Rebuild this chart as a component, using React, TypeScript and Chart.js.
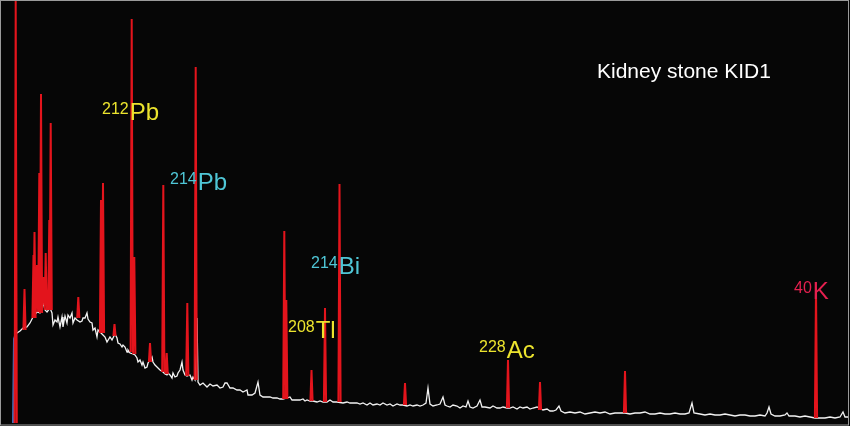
import React, { useEffect, useRef } from "react";
import { Chart, registerables } from "chart.js";

Chart.register(...registerables);

// Continuum (white trace): channel and counts
const contChannel = [
  15, 17, 20, 23, 27, 30, 33, 37, 40, 43, 45, 47, 50, 52, 53, 55, 57, 58, 60, 62, 63, 65, 67, 68, 70, 72, 73, 75, 77, 80,
  82, 83, 85, 87, 88, 90, 92, 93, 95, 97, 98, 100, 103, 105, 107, 108, 110, 112, 115, 117, 118, 120, 122, 123, 125, 127, 128, 130, 133, 135,
  137, 138, 140, 142, 143, 145, 147, 148, 150, 152, 153, 155, 157, 158, 160, 163, 165, 167, 168, 170, 172, 173, 175, 177, 178, 180, 182, 183, 185, 187,
  190, 192, 193, 195, 197, 198, 200, 203, 207, 210, 213, 217, 220, 223, 225, 227, 230, 233, 237, 240, 243, 247, 248, 252, 255, 258, 260, 263, 267, 270,
  273, 277, 280, 283, 287, 290, 292, 297, 300, 303, 305, 307, 310, 313, 317, 320, 323, 327, 330, 333, 337, 343, 347, 350, 357, 360, 363, 367, 370, 373,
  377, 380, 383, 387, 390, 393, 397, 400, 403, 407, 410, 413, 417, 420, 423, 426, 428, 430, 433, 437, 440, 443, 445, 447, 450, 453, 457, 460, 463, 466,
  468, 470, 473, 477, 480, 482, 485, 490, 493, 497, 500, 503, 507, 510, 513, 517, 520, 523, 527, 530, 533, 537, 543, 547, 550, 553, 556, 559, 561, 565,
  570, 575, 580, 585, 590, 595, 600, 605, 610, 615, 620, 625, 630, 635, 640, 645, 650, 655, 660, 665, 670, 675, 680, 685, 689, 692, 694, 700, 705, 710,
  715, 720, 725, 730, 735, 740, 745, 750, 755, 760, 765, 767, 769, 771, 775, 780, 785, 787, 789, 795, 800, 805, 810, 815, 820, 825, 830, 835, 840, 843,
  845, 848,
];
const contCounts = [
  87, 90, 92, 95, 96, 100, 106, 111, 110, 121, 113, 111, 115, 110, 98, 103, 101, 106, 96, 106, 96, 107, 100, 108, 105, 110, 100, 105, 103, 101,
  102, 105, 105, 110, 104, 101, 100, 93, 95, 86, 93, 91, 88, 86, 81, 81, 86, 83, 89, 85, 80, 79, 76, 78, 76, 71, 73, 70, 69, 68,
  65, 61, 63, 58, 61, 55, 56, 60, 63, 66, 61, 58, 56, 55, 53, 51, 49, 48, 50, 48, 45, 50, 46, 47, 50, 53, 61, 53, 48, 47,
  48, 43, 46, 43, 105, 41, 38, 40, 36, 39, 37, 38, 35, 36, 40, 40, 35, 35, 33, 33, 31, 33, 28, 28, 30, 41, 28, 26, 26, 26,
  25, 25, 24, 24, 25, 26, 23, 23, 23, 24, 22, 23, 22, 22, 21, 22, 21, 21, 23, 21, 21, 20, 21, 20, 20, 19, 20, 18, 20, 18,
  19, 18, 20, 18, 19, 17, 19, 18, 18, 17, 18, 17, 18, 17, 18, 20, 35, 19, 17, 18, 19, 26, 18, 17, 16, 18, 17, 15, 17, 16,
  22, 16, 15, 17, 23, 16, 16, 15, 17, 15, 15, 16, 15, 15, 16, 14, 16, 15, 16, 14, 15, 16, 13, 14, 12, 12, 13, 17, 12, 10,
  11, 10, 11, 9, 10, 11, 10, 11, 9, 10, 10, 10, 9, 10, 10, 11, 9, 9, 10, 9, 9, 10, 9, 9, 10, 20, 10, 9, 8, 9,
  8, 8, 9, 8, 7, 8, 8, 7, 7, 8, 7, 10, 16, 9, 7, 7, 8, 10, 7, 7, 6, 7, 6, 5, 5, 5, 6, 5, 6, 11,
  6, 6,
];

// Full-energy peaks (red): centre channel, peak counts, counts at peak foot
const peakChannel = [15.7, 24.5, 33.5, 34.5, 37, 39.3, 41, 43.3, 45.7, 49.3, 50.7, 78.3, 101, 103, 114.5, 131.7, 134.3, 150, 163.3, 166.7, 187.3, 195.7, 284.3, 286.3, 311.5, 325, 339.5, 405, 508, 540, 625, 816];
const peakCounts = [423, 134, 168, 191, 158, 250, 329, 146, 170, 203, 300, 126, 223, 240, 99, 404, 166, 80, 238, 70, 120, 356, 192, 123, 53, 115, 239, 40, 63, 41, 52, 135];
const peakBase = [0, 93, 105, 105, 111, 111, 110, 118, 113, 113, 113, 105, 90, 90, 87, 71, 69, 61, 51, 49, 47, 43, 24, 24, 22, 21, 21, 18, 15, 13, 10, 5];

// Low-energy threshold edge (blue)
const edgeChannel = [13, 14, 15];
const edgeCounts = [0, 84, 87];

// Nuclide annotations
const labelMass = ["212", "214", "214", "208", "228", "40"];
const labelSymbol = ["Pb", "Pb", "Bi", "Tl", "Ac", "K"];
const labelChannel = [102, 170, 311, 288, 479, 794];
const labelCounts = [303, 233, 149, 85, 65, 124];
const labelColor = ["#ece42e", "#4fc6d6", "#4fc6d6", "#ece42e", "#ece42e", "#e5204f"];

const titleText = "Kidney stone KID1";
const titleChannel = 597;
const titleCounts = 345;

const FONT = '"Liberation Sans", Arial, sans-serif';

export default function App() {
  const ref = useRef<HTMLCanvasElement>(null);

  useEffect(() => {
    document.body.style.margin = "0";
    const canvas = ref.current;
    if (!canvas) return;

    const whiteData = contChannel.map((x, i) => ({ x, y: contCounts[i] }));
    const redData: any[] = [];
    peakChannel.forEach((x, i) => {
      redData.push({ x: x - 1.1, y: peakBase[i] });
      redData.push({ x, y: peakCounts[i] });
      redData.push({ x: x + 1.1, y: peakBase[i] });
      redData.push({ x: x + 1.1, y: null });
    });
    const blueData = edgeChannel.map((x, i) => ({ x, y: edgeCounts[i] }));

    const decor = {
      id: "decor",
      beforeDraw(chart: any) {
        const ctx = chart.ctx;
        ctx.save();
        ctx.fillStyle = "#060606";
        ctx.fillRect(0, 0, chart.width, chart.height);
        ctx.restore();
      },
      afterDatasetsDraw(chart: any) {
        const ctx = chart.ctx;
        const xs = chart.scales.x;
        const ys = chart.scales.y;
        ctx.save();
        ctx.textBaseline = "alphabetic";
        ctx.textAlign = "left";
        labelMass.forEach((m, i) => {
          const px = xs.getPixelForValue(labelChannel[i]);
          const py = ys.getPixelForValue(labelCounts[i]);
          ctx.fillStyle = labelColor[i];
          ctx.font = `16px ${FONT}`;
          ctx.fillText(m, px, py - 6);
          const w = ctx.measureText(m).width;
          ctx.font = `24px ${FONT}`;
          ctx.fillText(labelSymbol[i], px + w + 1, py);
        });
        ctx.fillStyle = "#ffffff";
        ctx.font = `21px ${FONT}`;
        ctx.fillText(titleText, xs.getPixelForValue(titleChannel), ys.getPixelForValue(titleCounts));
        ctx.strokeStyle = "#9a9a9a";
        ctx.lineWidth = 1;
        ctx.strokeRect(0.5, 0.5, chart.width - 2, chart.height - 1.5);
        ctx.restore();
      },
    };

    const chart = new Chart(canvas, {
      type: "line",
      data: {
        datasets: [
          { data: redData, borderColor: "#e3141c", borderWidth: 2, pointRadius: 0, tension: 0, spanGaps: false, order: 0 },
          { data: blueData, borderColor: "#3f70b8", borderWidth: 2, pointRadius: 0, tension: 0, order: 1 },
          { data: whiteData, borderColor: "#f2f2f2", borderWidth: 1.3, pointRadius: 0, tension: 0, order: 2 },
        ],
      },
      options: {
        animation: false,
        responsive: false,
        parsing: true,
        layout: { padding: { left: 0, right: 0, top: 0, bottom: 3 } },
        plugins: { legend: { display: false }, tooltip: { enabled: false }, title: { display: false } },
        scales: {
          x: { type: "linear", min: 0, max: 850, display: false },
          y: { type: "linear", min: 0, max: 423, display: false },
        },
      },
      plugins: [decor],
    });
    return () => chart.destroy();
  }, []);

  return (
    <div style={{ position: "fixed", left: 0, top: 0, width: 850, height: 426 }}>
      <canvas ref={ref} width={850} height={426} />
    </div>
  );
}
